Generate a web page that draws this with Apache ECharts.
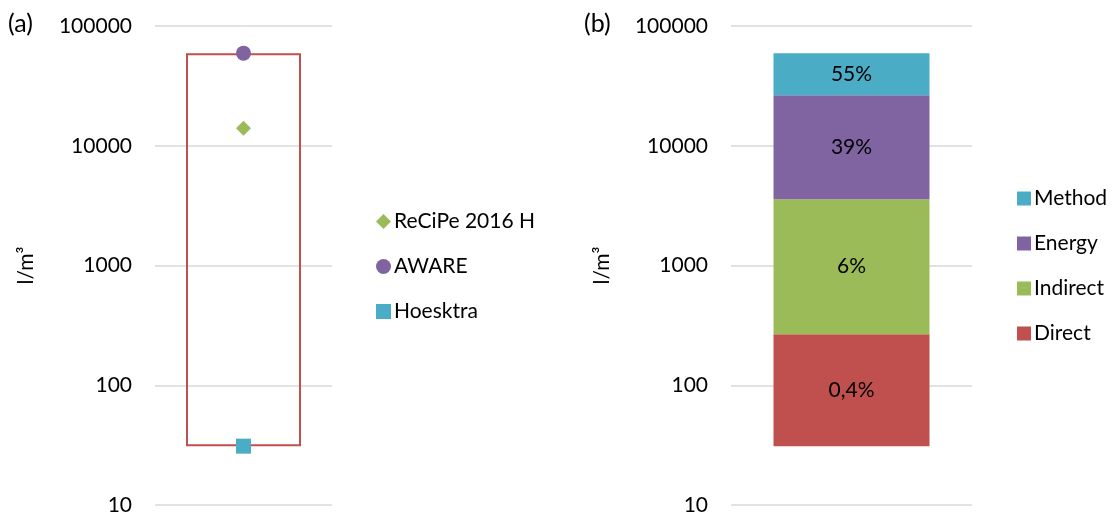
<!DOCTYPE html>
<html>
<head>
<meta charset="utf-8">
<script src="https://cdn.jsdelivr.net/npm/echarts@6/dist/echarts.min.js"></script>
<style>
  html, body { margin: 0; padding: 0; background: #fff; }
  #chart { width: 1117px; height: 516px; }
</style>
</head>
<body>
<div id="chart"></div>
<script>
// (a) methods compared on one log axis
const methodsA = ['ReCiPe 2016 H', 'AWARE', 'Hoesktra']
const valuesA = [14000, 59300, 31]
const rangeA = [31, 59300]

// (b) contributions stacked from the lowest value
const partsB = ['Direct', 'Indirect', 'Energy', 'Method']
const baseB = 31
const segmentsB = [236, 3313, 22820, 32900]
const labelsB = ['0,4%', '6%', '39%', '55%']

const yTicks = [10, 100, 1000, 10000, 100000]

const colors = {
  red: '#C0504D',
  green: '#9BBB59',
  purple: '#8064A2',
  teal: '#4BACC6'
}
const symbolsA = ['diamond', 'circle', 'rect']
const colorsA = [colors.green, colors.purple, colors.teal]
const colorsB = [colors.red, colors.green, colors.purple, colors.teal]

const font = 'Lato, "Open Sans", sans-serif'
const txt = { color: '#000', fontFamily: font, fontSize: 21 }

const chart = echarts.init(document.getElementById('chart'))

const yAxisBase = (gridIndex) => ({
  type: 'log',
  logBase: 10,
  min: yTicks[0],
  max: yTicks[yTicks.length - 1],
  gridIndex,
  name: 'l/m³',
  nameLocation: 'middle',
  nameGap: 118,
  nameTextStyle: { ...txt },
  axisLine: { show: false },
  axisTick: { show: false },
  axisLabel: { ...txt, margin: 23, formatter: (v) => String(Math.round(v)) },
  splitLine: { lineStyle: { color: '#D9D9D9', width: 1.5 } }
})

const xAxisBase = (gridIndex) => ({
  type: 'category',
  data: [''],
  gridIndex,
  axisLine: { show: false },
  axisTick: { show: false },
  axisLabel: { show: false }
})

const series = []

// box outline for (a)
series.push({
  type: 'bar',
  xAxisIndex: 0,
  yAxisIndex: 0,
  stack: 'box',
  barWidth: 115,
  silent: true,
  itemStyle: { color: 'transparent' },
  data: [rangeA[0]]
})
series.push({
  type: 'bar',
  xAxisIndex: 0,
  yAxisIndex: 0,
  stack: 'box',
  barWidth: 115,
  silent: true,
  itemStyle: { color: 'transparent', borderColor: colors.red, borderWidth: 2 },
  data: [rangeA[1] - rangeA[0]]
})

methodsA.forEach((name, i) => {
  series.push({
    name,
    type: 'scatter',
    xAxisIndex: 0,
    yAxisIndex: 0,
    symbol: symbolsA[i],
    symbolSize: 15,
    itemStyle: { color: colorsA[i], opacity: 1 },
    z: 5,
    data: [valuesA[i]]
  })
})

// stacked bar for (b)
series.push({
  type: 'bar',
  xAxisIndex: 1,
  yAxisIndex: 1,
  stack: 'b',
  barWidth: 156,
  silent: true,
  itemStyle: { color: 'transparent' },
  data: [baseB]
})
partsB.forEach((name, i) => {
  series.push({
    name,
    type: 'bar',
    xAxisIndex: 1,
    yAxisIndex: 1,
    stack: 'b',
    barWidth: 156,
    itemStyle: { color: colorsB[i] },
    label: {
      show: true,
      position: 'inside',
      formatter: () => labelsB[i],
      ...txt
    },
    data: [segmentsB[i]]
  })
})

const panelTitle = { color: '#000', fontFamily: font, fontSize: 25, fontWeight: 'normal' }

const option = {
  animation: false,
  textStyle: { fontFamily: font },
  title: [
    { text: '(a)', left: 3, top: 6, textStyle: panelTitle },
    { text: '(b)', left: 579, top: 6, textStyle: panelTitle }
  ],
  grid: [
    { left: 155, top: 26, width: 177, height: 479 },
    { left: 731, top: 26, width: 241, height: 479 }
  ],
  xAxis: [xAxisBase(0), xAxisBase(1)],
  yAxis: [yAxisBase(0), yAxisBase(1)],
  legend: [
    {
      orient: 'vertical',
      left: 371,
      top: 206,
      itemGap: 24,
      itemWidth: 15,
      itemHeight: 15,
      textStyle: { ...txt, padding: [0, 0, 0, -2] },
      data: methodsA
    },
    {
      orient: 'vertical',
      left: 1012,
      top: 183,
      itemGap: 24,
      itemWidth: 14,
      itemHeight: 14,
      icon: 'rect',
      textStyle: { ...txt, padding: [0, 0, 0, -2] },
      data: partsB.slice().reverse()
    }
  ],
  series
}

chart.setOption(option)
</script>
</body>
</html>
